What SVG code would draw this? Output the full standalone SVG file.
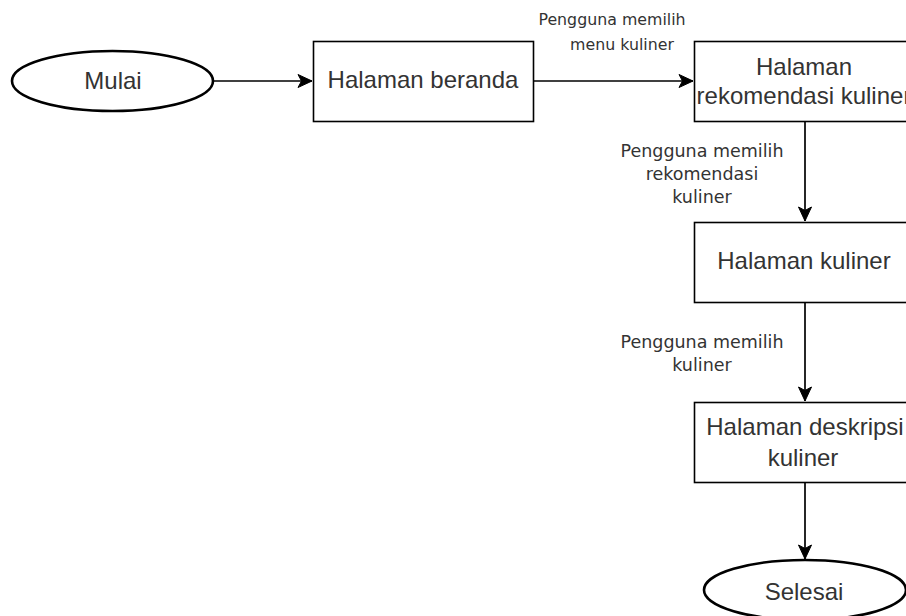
<svg xmlns="http://www.w3.org/2000/svg" width="906" height="616" viewBox="0 0 906 616">
<style>
.box{fill:#fff;stroke:#000;stroke-width:1.6}
.term{fill:#fff;stroke:#000;stroke-width:2.6}
.t{font-family:"Liberation Sans",Arial,sans-serif;font-size:24px;fill:#333;text-anchor:middle}
.l{font-family:"DejaVu Sans",Verdana,sans-serif;font-size:17.5px;fill:#333;text-anchor:middle}
.l1{font-size:15.8px}
.c{fill:none;stroke:#000;stroke-width:1.7}
</style>
<defs>
<marker id="arr" markerUnits="userSpaceOnUse" markerWidth="16" markerHeight="16" viewBox="0 0 16 16" refX="15" refY="8" orient="auto">
<path d="M1,1.5 L15,8 L1,14.5 L4.5,8 Z" fill="#000" stroke="#000" stroke-width="1"/>
</marker>
</defs>
<rect width="906" height="616" fill="#fff"/>
<g id="connectors">
<line class="c" x1="213" y1="81" x2="312" y2="81" marker-end="url(#arr)"/>
<line class="c" x1="534" y1="81" x2="693" y2="81" marker-end="url(#arr)"/>
<line class="c" x1="805" y1="122" x2="805" y2="221" marker-end="url(#arr)"/>
<line class="c" x1="805" y1="302" x2="805" y2="401" marker-end="url(#arr)"/>
<line class="c" x1="805" y1="483" x2="805" y2="559" marker-end="url(#arr)"/>
<text class="l l1"><tspan x="612" y="25">Pengguna memilih</tspan><tspan x="622" y="50">menu kuliner</tspan></text>
<text class="l"><tspan x="702" y="157">Pengguna memilih</tspan><tspan x="702" y="180">rekomendasi</tspan><tspan x="702" y="203">kuliner</tspan></text>
<text class="l"><tspan x="702" y="348">Pengguna memilih</tspan><tspan x="702" y="371">kuliner</tspan></text>
</g>
<g id="mulai">
<ellipse class="term" cx="112.5" cy="81" rx="100.5" ry="30"/>
<text class="t" x="113" y="89">Mulai</text>
</g>
<g id="beranda">
<rect class="box" x="313.5" y="41.5" width="220" height="80"/>
<text class="t" x="423" y="88">Halaman beranda</text>
</g>
<g id="rekomendasi">
<rect class="box" x="694.5" y="41.5" width="220" height="80"/>
<text class="t"><tspan x="804" y="75">Halaman</tspan><tspan x="804" y="104">rekomendasi kuliner</tspan></text>
</g>
<g id="kuliner">
<rect class="box" x="694.5" y="222.5" width="220" height="80"/>
<text class="t" x="804" y="269">Halaman kuliner</text>
</g>
<g id="deskripsi">
<rect class="box" x="694.5" y="402.5" width="220" height="80"/>
<text class="t"><tspan x="805" y="435">Halaman deskripsi</tspan><tspan x="803" y="466">kuliner</tspan></text>
</g>
<g id="selesai">
<ellipse class="term" cx="805" cy="590" rx="101" ry="30"/>
<text class="t" x="804" y="600">Selesai</text>
</g>
</svg>
